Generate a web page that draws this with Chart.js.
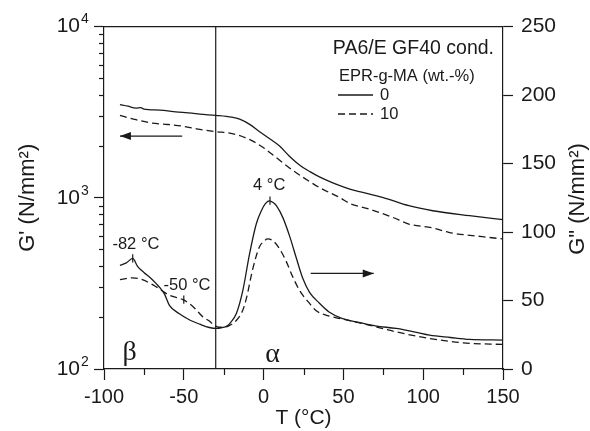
<!DOCTYPE html>
<html><head><meta charset="utf-8">
<script src="https://cdn.jsdelivr.net/npm/chart.js@4.4.1/dist/chart.umd.min.js"></script>
<style>html,body{margin:0;padding:0;background:#fff;}#wrap{width:590px;height:431px;}</style>
</head><body><div id="wrap"><canvas id="c" width="590" height="431"></canvas></div>
<script>
// ---- data ----
const xTickValues = [-100, -50, 0, 50, 100, 150];
const xMinorTicks = [-75, -25, 25, 75, 125];
const leftTickValues = [100, 1000, 10000];
const leftMinorTicks = [200, 300, 400, 500, 600, 700, 800, 900, 2000, 3000, 4000, 5000, 6000, 7000, 8000, 9000];
const rightTickValues = [0, 50, 100, 150, 200, 250];
const legendTitle = "PA6/E GF40 cond.";
const legendSubtitle = "EPR-g-MA (wt.-%)";
const seriesLabels = ["0", "10"];

// G' (storage modulus), left log axis
const gpSolidT = [-90, -85, -80, -77, -75, -65, -55, -45, -40, -30, -20, -15, -9, -2.5, 4, 10, 16, 22.5, 29, 35, 43, 54, 60, 75, 91, 106, 129, 150];
const gpSolidV = [3506, 3430, 3340, 3360, 3300, 3250, 3180, 3120, 3080, 3030, 2957, 2879, 2692, 2430, 2203, 2006, 1755, 1555, 1422, 1325, 1227, 1124, 1088, 1004, 899, 840, 786, 745];
const gpDashT = [-90, -80, -71, -60, -51, -40, -30, -19, -9, 0, 8, 16, 25, 35, 48, 54, 66, 81, 91, 106, 116, 137, 150];
const gpDashV = [3027, 2860, 2740, 2680, 2622, 2508, 2436, 2365, 2194, 1961, 1715, 1500, 1312, 1148, 1000, 927, 860, 768, 703, 667, 628, 593, 575];

// G'' (loss modulus), right linear axis
const gppSolidT = [-90, -86, -82, -79, -75, -71, -67, -64, -62, -59, -53, -46, -40, -34, -29.5, -26, -23, -21, -17, -13, -8.8, -4.6, -1.4, 1, 3.5, 6, 8, 12, 16.3, 20.5, 24.6, 28.8, 35, 41, 49, 58, 70, 83, 95, 104, 117, 129, 150];
const gppSolidV = [75.6, 77.5, 80.7, 75, 70.5, 66.6, 62, 58, 54.5, 46.5, 40.5, 35.6, 32.7, 30.3, 29.6, 30.2, 31.3, 33.5, 40.7, 57.4, 84.1, 105.9, 115.6, 120.5, 122.8, 121.5, 119.2, 110.7, 97, 81, 66, 56, 48, 41.6, 37, 34.4, 31.5, 29.6, 27, 24.7, 23, 21.6, 21.1];
const gppDashT = [-90, -82, -76, -67, -59, -50.5, -44, -38, -34, -31, -28, -25, -21, -17, -13, -10.8, -6.6, -2.5, 0, 2.5, 6, 10, 14, 18, 22.5, 28, 33, 40, 48, 62, 83, 104, 125, 150];
const gppDashV = [65.2, 66.6, 65.2, 59.8, 53.8, 50.6, 45.3, 38, 35, 32, 30.5, 30.5, 32, 35.6, 43, 51.5, 74, 89.4, 93, 95, 93.5, 87.7, 79, 68, 57.4, 49, 42.5, 39, 36.8, 33.2, 27.1, 22.3, 19.1, 17.9];

// annotations (data coordinates)
const transitionT = -30;
const peakLabels = [
  {text: "-82 °C", T: -82, v: 80.7, labelT: -80, labelV: 91},
  {text: "-50 °C", T: -50, v: 50.6, labelT: -48, labelV: 61},
  {text: "4 °C", T: 4, v: 123, labelT: 3.5, labelV: 134}
];
const arrowLeft = {T0: -51, T1: -90, v: 2294};   // points to G' axis
const arrowRight = {T0: 29.5, T1: 69, v: 69.8};  // points to G'' axis
const regionLabels = [{text: "β", T: -84, v: 12}, {text: "α", T: 5.6, v: 10.5}];

const INK = '#1a1a1a';
const FONT = 'Liberation Sans, Arial, sans-serif';
const DASH = [7, 4];
const pts = (t, v) => t.map((x, i) => ({x: x, y: v[i]}));

const decor = {
  id: 'decor',
  afterDraw(chart) {
    const c = chart.ctx, a = chart.chartArea;
    const x = chart.scales.x, yL = chart.scales.yL, yR = chart.scales.yR;
    c.save();
    c.setLineDash([]);
    c.strokeStyle = INK; c.fillStyle = INK; c.lineWidth = 1.2;
    // top frame line
    c.beginPath(); c.moveTo(a.left, a.top); c.lineTo(a.right, a.top); c.stroke();
    // transition vertical line
    const tx = x.getPixelForValue(transitionT);
    c.beginPath(); c.moveTo(tx, a.top); c.lineTo(tx, a.bottom); c.stroke();
    // minor ticks
    xMinorTicks.forEach(v => {
      const px = Math.round(x.getPixelForValue(v)) + 0.5;
      c.beginPath(); c.moveTo(px, a.bottom); c.lineTo(px, a.bottom + 6); c.stroke();
    });
    leftMinorTicks.forEach(v => {
      const py = Math.round(yL.getPixelForValue(v)) + 0.5;
      c.beginPath(); c.moveTo(a.left - 5, py); c.lineTo(a.left, py); c.stroke();
    });
    // exponents of the left tick labels
    c.font = '14px ' + FONT; c.textAlign = 'left'; c.textBaseline = 'middle';
    leftTickValues.forEach(v => {
      c.fillText(String(Math.round(Math.log10(v))), 81, yL.getPixelForValue(v) - 7);
    });
    // arrows
    const arrow = (x0, x1, y) => {
      c.beginPath(); c.moveTo(x0, y); c.lineTo(x1, y); c.stroke();
      const dir = Math.sign(x1 - x0);
      c.beginPath(); c.moveTo(x1, y); c.lineTo(x1 - dir * 11, y - 4); c.lineTo(x1 - dir * 11, y + 4); c.closePath(); c.fill();
    };
    arrow(x.getPixelForValue(arrowLeft.T0), x.getPixelForValue(arrowLeft.T1), yL.getPixelForValue(arrowLeft.v));
    arrow(x.getPixelForValue(arrowRight.T0), x.getPixelForValue(arrowRight.T1), yR.getPixelForValue(arrowRight.v));
    // peak markers + labels
    c.font = '16.5px ' + FONT; c.textAlign = 'center';
    peakLabels.forEach(p => {
      const px = x.getPixelForValue(p.T);
      c.beginPath(); c.moveTo(px, yR.getPixelForValue(p.v + 3)); c.lineTo(px, yR.getPixelForValue(p.v - 3)); c.stroke();
      c.fillText(p.text, x.getPixelForValue(p.labelT), yR.getPixelForValue(p.labelV));
    });
    // greek region labels
    c.font = '28px Liberation Serif, Times New Roman, serif';
    regionLabels.forEach(r => c.fillText(r.text, x.getPixelForValue(r.T), yR.getPixelForValue(r.v)));
    // legend
    c.textAlign = 'right'; c.font = '19.5px ' + FONT;
    c.fillText(legendTitle, 494, 49);
    c.textAlign = 'left'; c.font = '16.5px ' + FONT;
    c.fillText(legendSubtitle, 339, 76);
    [0, 1].forEach(i => {
      const ds = chart.data.datasets[i];
      const y = 95 + i * 19;
      c.setLineDash(ds.borderDash || []);
      c.lineWidth = ds.borderWidth;
      c.beginPath(); c.moveTo(338, y); c.lineTo(373, y); c.stroke();
      c.setLineDash([]);
      c.fillText(seriesLabels[i], 380, y);
    });
    // right axis title (reads bottom to top)
    c.save();
    c.translate(578, 199);
    c.rotate(-Math.PI / 2);
    c.textAlign = 'center'; c.font = '22px ' + FONT;
    c.fillText('G" (N/mm²)', 0, 0);
    c.restore();
    c.restore();
  }
};

const lineDs = (label, t, v, axis, dash) => ({
  label: label, data: pts(t, v), yAxisID: axis, borderColor: INK, borderWidth: 1.3,
  borderDash: dash ? DASH : [], pointRadius: 0, fill: false, cubicInterpolationMode: 'monotone'
});

new Chart(document.getElementById('c'), {
  type: 'line',
  data: {datasets: [
    lineDs("G' 0", gpSolidT, gpSolidV, 'yL', false),
    lineDs("G' 10", gpDashT, gpDashV, 'yL', true),
    lineDs('G" 0', gppSolidT, gppSolidV, 'yR', false),
    lineDs('G" 10', gppDashT, gppDashV, 'yR', true)
  ]},
  options: {
    responsive: false, animation: false, devicePixelRatio: 1,
    layout: {padding: {top: 25, left: 0, right: 0, bottom: 0}},
    plugins: {legend: {display: false}, tooltip: {enabled: false}},
    scales: {
      x: {
        type: 'linear', min: -100, max: 150,
        afterBuildTicks: s => { s.ticks = xTickValues.map(v => ({value: v})); },
        ticks: {autoSkip: false, maxRotation: 0, font: {family: FONT, size: 20}, color: INK, padding: 5},
        grid: {drawOnChartArea: false, tickLength: 11, tickColor: INK, tickWidth: 1.2},
        border: {color: INK, width: 1.2},
        title: {display: true, text: 'T (°C)', font: {family: FONT, size: 21}, color: INK, padding: {top: 0, bottom: 0}},
        afterFit: s => { s.height = 62; }
      },
      yL: {
        type: 'logarithmic', position: 'left', min: 100, max: 10000,
        afterBuildTicks: s => { s.ticks = leftTickValues.map(v => ({value: v})); },
        ticks: {autoSkip: false, font: {family: FONT, size: 21}, color: INK, padding: 14,
          callback: () => '10'},
        grid: {drawOnChartArea: false, tickLength: 10, tickColor: INK, tickWidth: 1.2},
        border: {color: INK, width: 1.2},
        title: {display: true, text: "G' (N/mm²)", font: {family: FONT, size: 22}, color: INK, padding: {top: 15, bottom: 0}},
        afterFit: s => { s.width = 104; }
      },
      yR: {
        type: 'linear', position: 'right', min: 0, max: 250,
        afterBuildTicks: s => { s.ticks = rightTickValues.map(v => ({value: v})); },
        ticks: {autoSkip: false, font: {family: FONT, size: 21}, color: INK, padding: 8},
        grid: {drawOnChartArea: false, tickLength: 10, tickColor: INK, tickWidth: 1.2},
        border: {color: INK, width: 1.2},
        afterFit: s => { s.width = 87; }
      }
    }
  },
  plugins: [decor]
});
</script>
</body></html>
